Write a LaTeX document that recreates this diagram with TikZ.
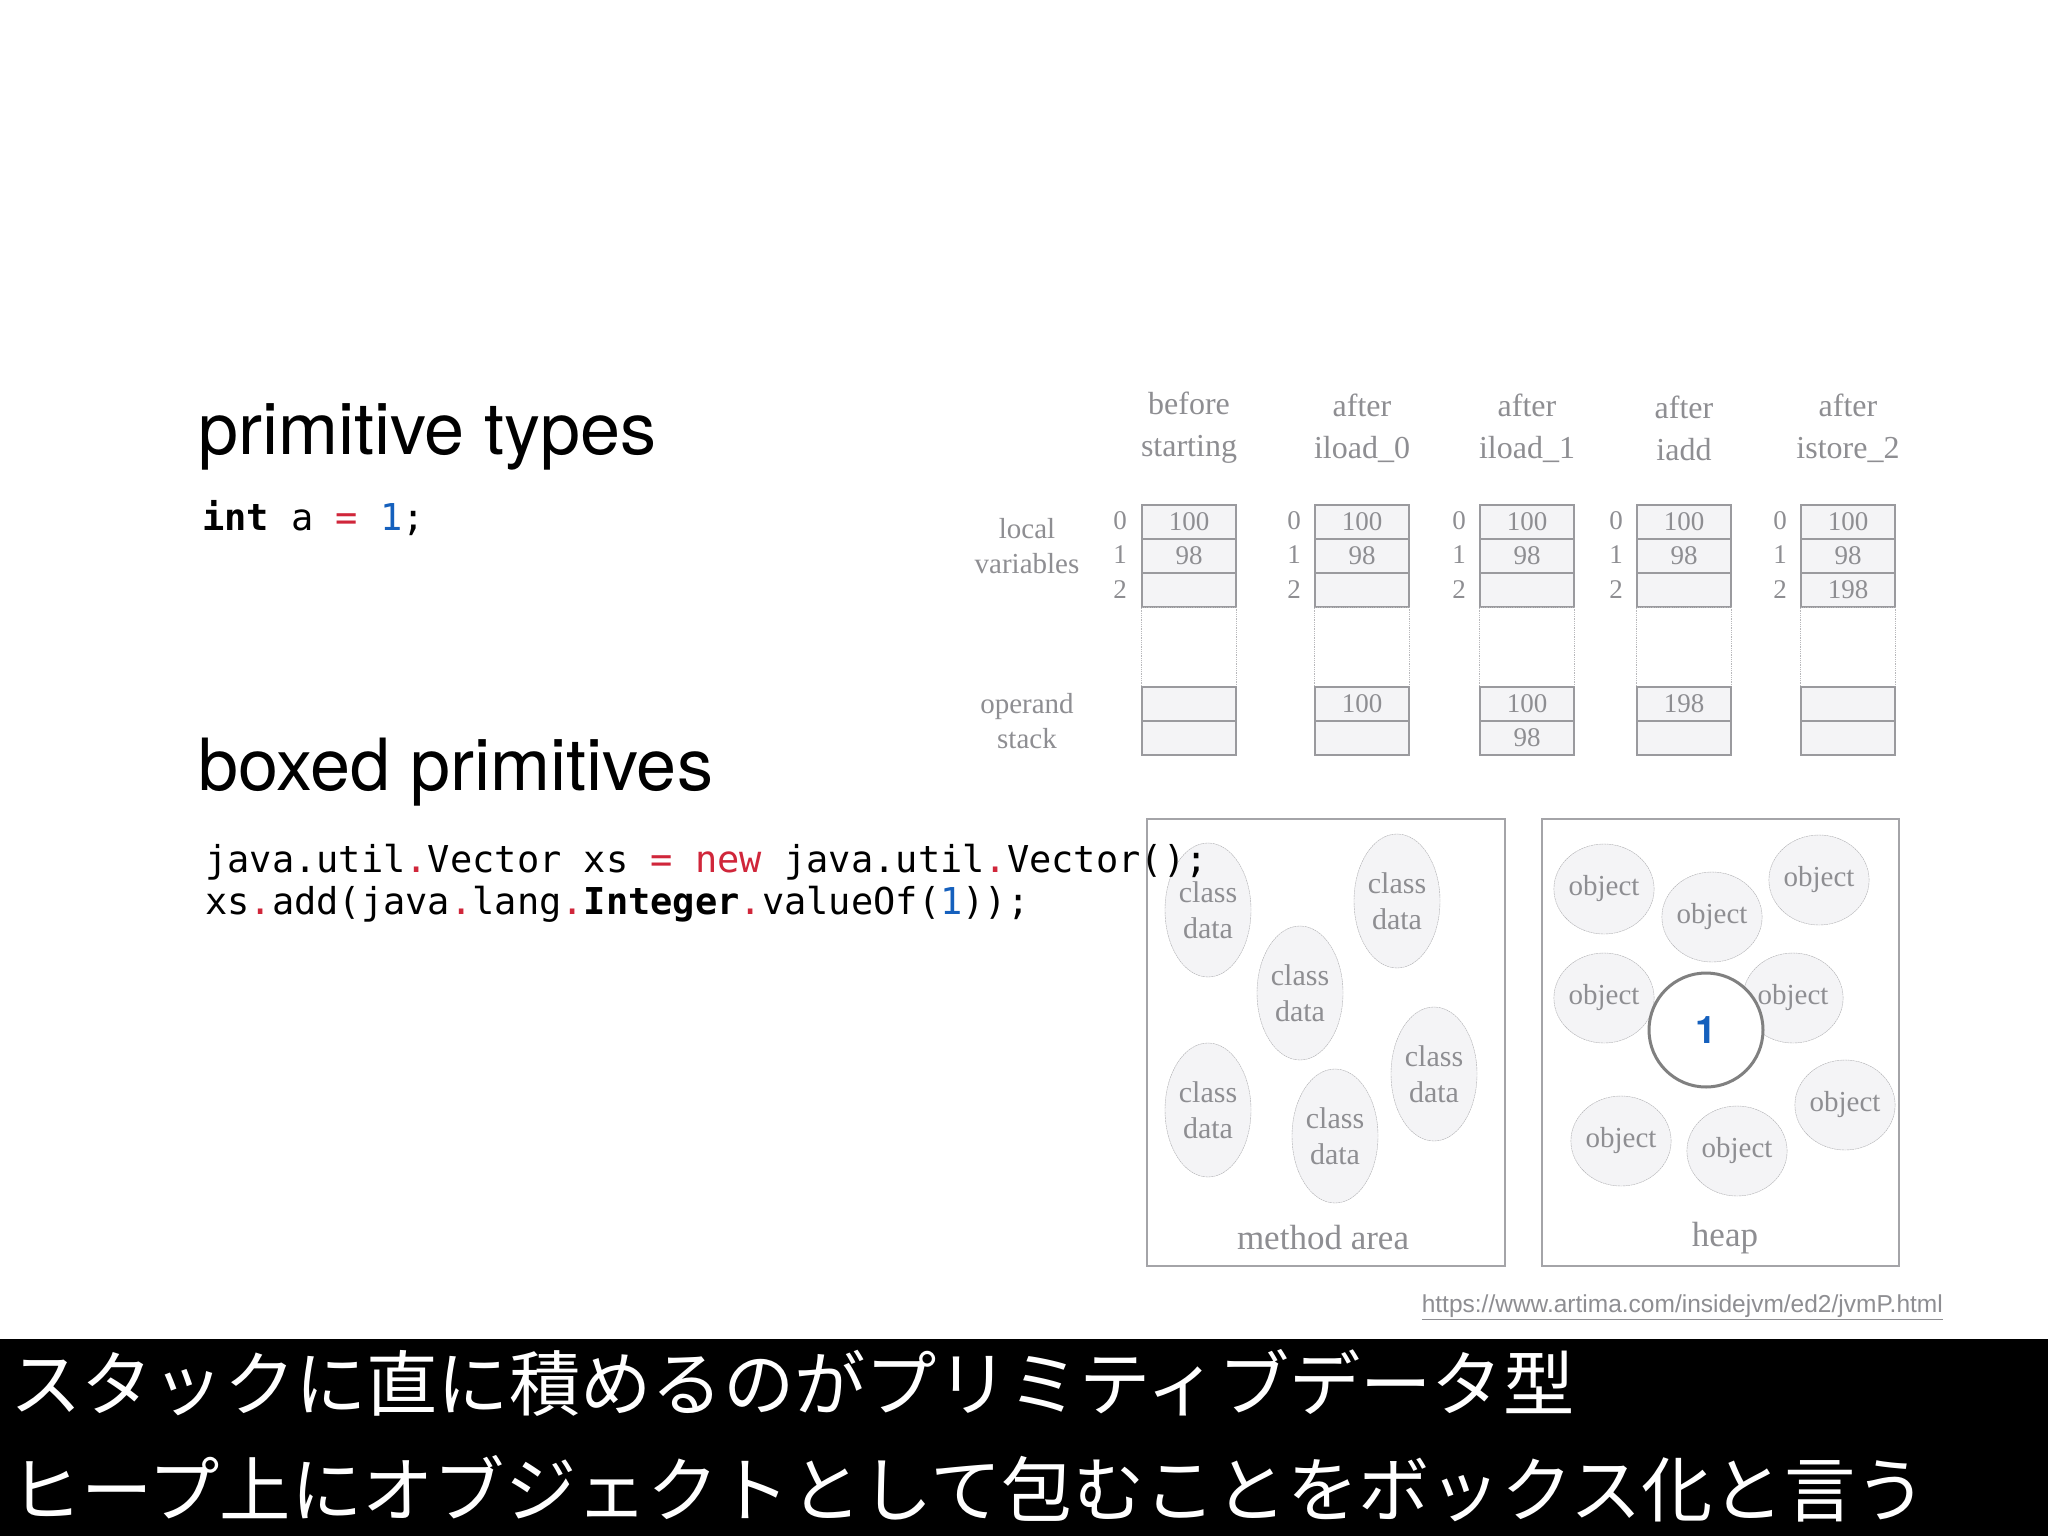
\documentclass[tikz,border=0pt]{standalone}
\usepackage{fontspec}
\setmainfont{Liberation Serif}
\newfontfamily\hv{TeX Gyre Heros}
\newfontfamily\mono{DejaVu Sans Mono}
\newfontfamily\jp{Noto Sans CJK JP}
\newfontfamily\url{Liberation Sans}
\usetikzlibrary{shapes.geometric}
\definecolor{cellf}{HTML}{F4F4F6}
\definecolor{cellb}{HTML}{9A9A9E}
\definecolor{txtg}{HTML}{8E8E92}
\definecolor{kred}{HTML}{D0263A}
\definecolor{kblue}{HTML}{1560BD}
\tikzset{
 cell/.style={draw=cellb,fill=cellf,line width=1.4pt,minimum width=94pt,minimum height=34pt,inner sep=0pt,font=\fontsize{27}{27}\selectfont,text=txtg},
 gtxt/.style={text=txtg,font=\fontsize{32}{42}\selectfont,align=center,inner sep=0pt},
 ltxt/.style={text=txtg,font=\fontsize{29}{35}\selectfont,align=center,inner sep=0pt},
 idx/.style={text=txtg,font=\fontsize{27}{27}\selectfont,inner sep=0pt},
 cd/.style={ellipse,draw=cellb!80,dash pattern=on 2pt off 0.6pt,fill=cellf,minimum width=86pt,minimum height=134pt,inner sep=0pt,text=txtg,align=center,font=\fontsize{30}{36}\selectfont},
 ob/.style={ellipse,draw=cellb!80,dash pattern=on 2pt off 0.6pt,fill=cellf,minimum width=88pt,minimum height=90pt,inner sep=0pt,text=txtg,font=\fontsize{29}{29}\selectfont},
 area/.style={draw=cellb!90,line width=1.2pt},
 code/.style={anchor=west,inner sep=0pt,font=\mono\fontsize{37}{42}\selectfont},
 ttl/.style={anchor=west,inner sep=0pt,font=\hv\fontsize{72}{72}\selectfont},
 jtxt/.style={anchor=west,inner sep=0pt,text=white,font=\jp\fontsize{71.3}{72}\selectfont},
}
\begin{document}
\begin{tikzpicture}[x=1pt,y=-1pt]
\useasboundingbox (0,0) rectangle (2048,1536);
\fill[white] (0,0) rectangle (2048,1536);
% titles and code
\node[ttl] (t1) at (198,437) {primitive types};
\node[code] (c1) at (202,518) {\textbf{int} a \textcolor{kred}{=} \textcolor{kblue}{1};};
\node[ttl] (t2) at (198,772) {boxed primitives};
% stack diagram
\node[ltxt] (lv) at (1027,546) {local\\variables};
\node[ltxt] (os) at (1027,721) {operand\\stack};
\foreach \i/\x/\ix/\ha/\hb/\two/\sa/\sb in {
 1/1189/1120/before/starting//{}/{},
 2/1362/1294/after/iload\_0//100/{},
 3/1527/1459/after/iload\_1//100/98,
 4/1684/1616/after/iadd//198/{},
 5/1848/1780/after/istore\_2/198/{}/{}}{
 \node[gtxt] (h\i) at (\x,428) {\ha\\\hb};
 \node[cell] (a\i) at (\x,522) {100};
 \node[cell] (b\i) at (\x,556) {98};
 \node[cell] (d\i) at (\x,590) {\two};
 \draw[cellb!70,densely dotted,line width=0.8pt] (d\i.south west) rectangle ([yshift=-80pt]d\i.south east);
 \node[cell] (e\i) at (\x,704) {\sa};
 \node[cell] (f\i) at (\x,738) {\sb};
 \node[idx] (n0\i) at (\ix,521) {0};
 \node[idx] (n1\i) at (\ix,555) {1};
 \node[idx] (n2\i) at (\ix,590) {2};
}
% method area
\draw[area] (1147,819) rectangle (1505,1266);
\node[cd] (m1) at (1208,910) {class\\data};
\node[cd] (m2) at (1397,901) {class\\data};
\node[cd] (m3) at (1300,993) {class\\data};
\node[cd] (m4) at (1208,1110) {class\\data};
\node[cd] (m5) at (1335,1136) {class\\data};
\node[cd] (m6) at (1434,1074) {class\\data};
\node[text=txtg,font=\fontsize{35}{35}\selectfont] (ma) at (1323,1238) {method area};
% heap
\draw[area] (1542,819) rectangle (1899,1266);
\node[ob] (o1) at (1604,889) {object};
\node[ob] (o2) at (1712,917) {object};
\node[ob] (o3) at (1819,880) {object};
\node[ob] (o4) at (1604,998) {object};
\node[ob] (o5) at (1793,998) {object};
\node[ob] (o6) at (1845,1105) {object};
\node[ob] (o7) at (1621,1141) {object};
\node[ob] (o8) at (1737,1151) {object};
\node[circle,draw=black!50,line width=3pt,fill=white,minimum size=114pt,inner sep=0pt,text=kblue,font=\hv\bfseries\fontsize{38}{38}\selectfont] (one) at (1706,1030) {1};
\node[text=txtg,font=\fontsize{35}{35}\selectfont] (hp) at (1725,1238) {heap};
% code drawn over the method area
\node[code] (c2) at (205,862) {java.util\textcolor{kred}{.}Vector xs \textcolor{kred}{=} \textcolor{kred}{new} java.util\textcolor{kred}{.}Vector();};
\node[code] (c3) at (205,904) {xs\textcolor{kred}{.}add(java\textcolor{kred}{.}lang\textcolor{kred}{.}\textbf{Integer}\textcolor{kred}{.}valueOf(\textcolor{kblue}{1}));};
\node[anchor=east,inner sep=0pt,text=txtg,font=\url\fontsize{24.5}{24.5}\selectfont] (u) at (1943,1307) {\underline{https://www.artima.com/insidejvm/ed2/jvmP.html}};
% caption band
\fill[black] (0,1339) rectangle (2048,1536);
\node[jtxt] (j1) at (10,1383) {スタックに直に積めるのがプリミティブデータ型};
\node[jtxt] (j2) at (10,1489) {ヒープ上にオブジェクトとして包むことをボックス化と言う};
\end{tikzpicture}
\end{document}
